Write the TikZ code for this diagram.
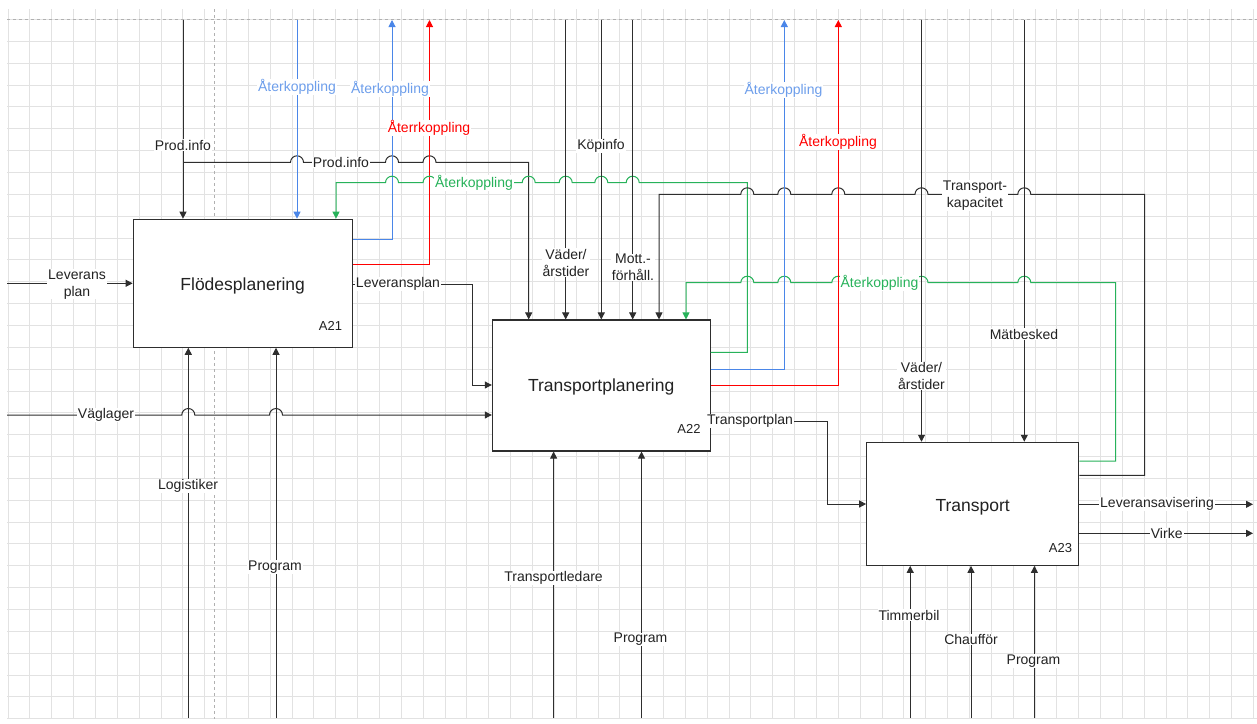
\documentclass[tikz,border=0pt]{standalone}
\usepackage{fontspec}
\setmainfont{Liberation Sans}
\usetikzlibrary{arrows.meta,calc}
\definecolor{ln}{HTML}{2E2E2E}
\definecolor{txt}{HTML}{222222}
\definecolor{bl}{HTML}{4A86E8}
\definecolor{blt}{HTML}{6D9EEB}
\definecolor{rd}{HTML}{FF0000}
\definecolor{gr}{HTML}{27B25A}
\definecolor{gridc}{HTML}{E2E2E2}
\definecolor{pagec}{HTML}{B0B0B0}
\newcommand\jmpR[2]{-- ({#1-6.5},#2) arc[start angle=180,end angle=360,radius=6.5]}
\newcommand\jmpL[2]{-- ({#1+6.5},#2) arc[start angle=0,end angle=-180,radius=6.5]}
\newcommand\lowr[2]{\raisebox{-#1}[\height][\depth]{#2}}
\begin{document}
\begin{tikzpicture}[x=1pt,y=-1pt,
  gridln/.style={draw=gridc,line width=0.9pt},
  pageln/.style={draw=pagec,line width=0.8pt,dash pattern=on 3pt off 3pt},
  con/.style={draw=ln,line width=1pt,-{Triangle[length=7pt,width=7pt]}},
  conb/.style={con,draw=bl},
  conr/.style={con,draw=rd},
  cong/.style={con,draw=gr},
  box/.style={draw=ln,fill=white,line width=1.1pt,inner sep=0pt,font=\fontsize{17.5}{20}\selectfont,text=txt},
  lbl/.style={fill=white,inner xsep=1pt,inner ysep=0.5pt,font=\fontsize{14}{17}\selectfont,text=txt,align=center},
  blbl/.style={lbl,text=blt},
  rlbl/.style={lbl,text=rd},
  glbl/.style={lbl,text=gr},
  aid/.style={font=\fontsize{13}{15}\selectfont,text=txt,anchor=east,inner sep=0pt}]
\useasboundingbox (0,0) rectangle (1257,723);
\fill[white] (0,0) rectangle (1257,723);
% grid
\foreach \i in {0,...,57} \draw[gridln] ({8+21.85*\i},9) -- ({8+21.85*\i},719);
\foreach \j in {0,...,32} \draw[gridln] (7,{19.5+21.85*\j}) -- (1257,{19.5+21.85*\j});
\draw[pageln] (7,19.5) -- (1257,19.5);
\draw[pageln] (214,9) -- (214,719);

% boxes
\node[box,minimum width=219pt,minimum height=128pt] (a21) at (242.7,283.2) {\lowr{3pt}{Flödesplanering}};
\node[box,minimum width=217.7pt,minimum height=131pt] (a22) at (601.2,385.5) {\lowr{1.5pt}{Transportplanering}};
\node[box,minimum width=212pt,minimum height=123pt] (a23) at (972.7,503.8) {\lowr{3pt}{Transport}};

% coordinates
\coordinate (tProd) at (183,20);
\coordinate (jProd) at (183,162.3);
\coordinate (bProd) at (528.7,162.3);
\coordinate (tB1) at (297,20);
\coordinate (bB2) at (392,239);
\coordinate (tB2) at (392,20);
\coordinate (bR1) at (429.5,264.3);
\coordinate (tR1) at (429.5,20);
\coordinate (bG1a) at (747.3,352.3);
\coordinate (bG1b) at (747.3,182.7);
\coordinate (bG1c) at (336,182.7);
\coordinate (bLp1) at (472.7,284.3);
\coordinate (bLp2) at (472.7,385);
\coordinate (sVag) at (7,415);
\coordinate (sLev) at (7,283.3);
\coordinate (sLog) at (188.3,718);
\coordinate (sPr1) at (276,718);
\coordinate (sTl) at (553.6,718);
\coordinate (sPr2) at (641.5,718);
\coordinate (sTim) at (910.2,718);
\coordinate (sCh) at (971,718);
\coordinate (sPr3) at (1034.4,718);
\coordinate (tV1) at (565.7,20);
\coordinate (tK) at (601.3,20);
\coordinate (tM) at (632.7,20);
\coordinate (bTk1) at (1144.7,475.3);
\coordinate (bTk2) at (1144.7,194.3);
\coordinate (bTk3) at (659,194.3);
\coordinate (bG2a) at (1115.7,461);
\coordinate (bG2b) at (1115.7,282.7);
\coordinate (bG2c) at (686,282.7);
\coordinate (bB3) at (784.3,369);
\coordinate (tB3) at (784.3,20);
\coordinate (bR2) at (838.3,385);
\coordinate (tR2) at (838.3,20);
\coordinate (bTp1) at (827.7,421);
\coordinate (bTp2) at (827.7,504);
\coordinate (tV2) at (921.5,20);
\coordinate (tMb) at (1024.3,20);
\coordinate (eLa) at (1253,504.3);
\coordinate (eVi) at (1253,533.3);

% connectors
\draw[con] (tProd) -- (tProd |- a21.north);
\draw[con] (jProd) \jmpR{297}{162.3} \jmpR{392}{162.3} \jmpR{429.5}{162.3} -- (bProd) -- (bProd |- a22.north);
\draw[conb] (tB1) -- (tB1 |- a21.north);
\draw[conb] (a21.east |- bB2) -- (bB2) -- (tB2);
\draw[conr] (a21.east |- bR1) -- (bR1) -- (tR1);
\draw[cong] (a22.east |- bG1a) -- (bG1a) -- (bG1b) \jmpL{632.7}{182.7} \jmpL{601.3}{182.7} \jmpL{565.7}{182.7} \jmpL{528.7}{182.7} \jmpL{429.5}{182.7} \jmpL{392}{182.7} -- (bG1c) -- (bG1c |- a21.north);
\draw[con] (a21.east |- bLp1) -- (bLp1) -- (bLp2) -- (a22.west |- bLp2);
\draw[con] (sVag) \jmpR{188.3}{415} \jmpR{276}{415} -- (a22.west |- sVag);
\draw[con] (sLev) -- (a21.west |- sLev);
\draw[con] (sLog) -- (sLog |- a21.south);
\draw[con] (sPr1) -- (sPr1 |- a21.south);
\draw[con] (sTl) -- (sTl |- a22.south);
\draw[con] (sPr2) -- (sPr2 |- a22.south);
\draw[con] (sTim) -- (sTim |- a23.south);
\draw[con] (sCh) -- (sCh |- a23.south);
\draw[con] (sPr3) -- (sPr3 |- a23.south);
\draw[con] (tV1) -- (tV1 |- a22.north);
\draw[con] (tK) -- (tK |- a22.north);
\draw[con] (tM) -- (tM |- a22.north);
\draw[con] (a23.east |- bTk1) -- (bTk1) -- (bTk2) \jmpL{1024.3}{194.3} \jmpL{921.5}{194.3} \jmpL{838.3}{194.3} \jmpL{784.3}{194.3} \jmpL{747.3}{194.3} -- (bTk3) -- (bTk3 |- a22.north);
\draw[cong] (a23.east |- bG2a) -- (bG2a) -- (bG2b) \jmpL{1024.3}{282.7} \jmpL{921.5}{282.7} \jmpL{838.3}{282.7} \jmpL{784.3}{282.7} \jmpL{747.3}{282.7} -- (bG2c) -- (bG2c |- a22.north);
\draw[conb] (a22.east |- bB3) -- (bB3) -- (tB3);
\draw[conr] (a22.east |- bR2) -- (bR2) -- (tR2);
\draw[con] (a22.east |- bTp1) -- (bTp1) -- (bTp2) -- (a23.west |- bTp2);
\draw[con] (tV2) -- (tV2 |- a23.north);
\draw[con] (tMb) -- (tMb |- a23.north);
\draw[con] (a23.east |- eLa) -- (eLa);
\draw[con] (a23.east |- eVi) -- (eVi);

% labels
\node[lbl] (lProd1) at (183,145) {Prod.info};
\node[lbl] (lProd2) at (341,162.3) {Prod.info};
\node[blbl] (lB1) at (297,87) {Återkoppling};
\node[blbl] (lB2) at (390,89) {Återkoppling};
\node[rlbl] (lR1) at (429,128) {Återrkoppling};
\node[glbl] (lG1) at (474,182.7) {Återkoppling};
\node[lbl] (lKop) at (601,146) {Köpinfo};
\node[blbl] (lB3) at (783.5,90) {Återkoppling};
\node[rlbl] (lR2) at (838,142) {Återkoppling};
\node[lbl] (lTk) at (975,195.7) {Transport-\\kapacitet};
\node[lbl] (lV1) at (566,262.5) {Väder/\\årstider};
\node[lbl] (lM) at (633,267.5) {Mott.-\\förhåll.};
\node[glbl] (lG2) at (879.5,282.7) {Återkoppling};
\node[lbl] (lLev) at (77,284.2) {Leverans\\plan};
\node[lbl] (lLp) at (398,284.3) {Leveransplan};
\node[lbl] (lVag) at (106,415) {Väglager};
\node[lbl] (lTp) at (750,421) {Transportplan};
\node[lbl] (lMb) at (1024,334) {Mätbesked};
\node[lbl] (lV2) at (921.5,375.8) {Väder/\\årstider};
\node[lbl] (lLa) at (1157,504.3) {Leveransavisering};
\node[lbl] (lVi) at (1166.7,533.3) {Virke};
\node[lbl] (lLog) at (188,486) {Logistiker};
\node[lbl] (lPr1) at (275,567) {Program};
\node[lbl] (lTl) at (553.6,578.3) {Transportledare};
\node[lbl] (lPr2) at (640.5,639.3) {Program};
\node[lbl] (lTim) at (909,615) {Timmerbil};
\node[lbl] (lCh) at (971,639.3) {Chaufför};
\node[lbl] (lPr3) at (1033.5,661) {Program};
\node[aid] (n21) at (342.3,326) {A21};
\node[aid] (n22) at (700.7,429) {A22};
\node[aid] (n23) at (1072.3,547.7) {A23};
\end{tikzpicture}
\end{document}
